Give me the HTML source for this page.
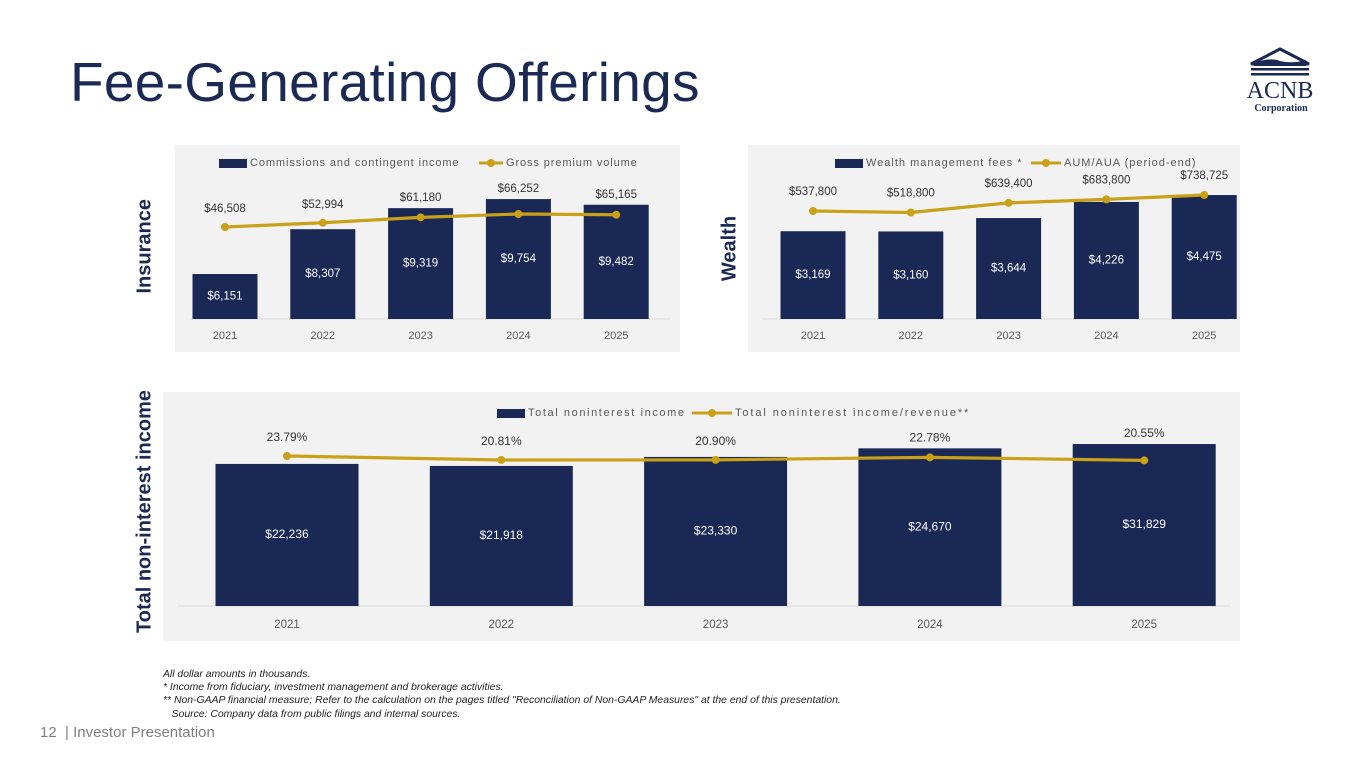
<!DOCTYPE html>
<html><head><meta charset="utf-8">
<style>
html,body{margin:0;padding:0;background:#fff;}
body{width:1365px;height:768px;position:relative;overflow:hidden;font-family:"Liberation Sans",sans-serif;}
.title{position:absolute;left:70px;top:50px;font-size:55px;color:#1b2a55;letter-spacing:0.3px;}
.side{position:absolute;font-weight:bold;color:#1b2a55;font-size:20px;transform:rotate(-90deg);transform-origin:center;white-space:nowrap;}
.notes{position:absolute;left:163px;top:668px;font-size:10.4px;font-style:italic;color:#222;line-height:13.2px;}
.footer{position:absolute;left:40px;top:724px;font-size:15px;color:#7f7f7f;}
svg{position:absolute;left:0;top:0;}
</style></head>
<body>
<div class="title">Fee-Generating Offerings</div>
<svg width="1365" height="768" id="chart">
  <g>
    <path d="M1251 64 L1280 49 L1309 64 Z" fill="none" stroke="#1b2a55" stroke-width="3"/>
    <path d="M1254 63 Q1270 57 1280 61 Q1292 64 1306 60 L1306 66 L1254 66 Z" fill="#1b2a55"/>
    <rect x="1251" y="68" width="58" height="2.5" fill="#1b2a55"/>
    <rect x="1251" y="73" width="58" height="2.5" fill="#1b2a55"/>
    <text x="1280" y="98" text-anchor="middle" font-family="Liberation Serif,serif" font-size="24" fill="#1b2a55">ACNB</text>
    <text x="1281" y="111" text-anchor="middle" font-family="Liberation Serif,serif" font-size="10" font-weight="bold" fill="#1b2a55">Corporation</text>
  </g>
</svg>
<div class="side" style="left:100px;top:237px;width:90px;text-align:center;">Insurance</div>
<div class="side" style="left:690px;top:237px;width:80px;text-align:center;">Wealth</div>
<div class="side" style="left:15px;top:500px;width:260px;text-align:center;">Total non-interest income</div>
<div class="notes">
All dollar amounts in thousands.<br>
* Income from fiduciary, investment management and brokerage activities.<br>
** Non-GAAP financial measure; Refer to the calculation on the pages titled "Reconciliation of Non-GAAP Measures" at the end of this presentation.<br>
&nbsp;&nbsp;&nbsp;Source: Company data from public filings and internal sources.
</div>
<div class="footer">12 &nbsp;| Investor Presentation</div>
<script>
const years = ["2021","2022","2023","2024","2025"];
const insBarValues = [6151, 8307, 9319, 9754, 9482];
const insBarLabels = ["$6,151","$8,307","$9,319","$9,754","$9,482"];
const insLineValues = [46508, 52994, 61180, 66252, 65165];
const insLineLabels = ["$46,508","$52,994","$61,180","$66,252","$65,165"];
const wlBarValues = [3169, 3160, 3644, 4226, 4475];
const wlBarLabels = ["$3,169","$3,160","$3,644","$4,226","$4,475"];
const wlLineValues = [537800, 518800, 639400, 683800, 738725];
const wlLineLabels = ["$537,800","$518,800","$639,400","$683,800","$738,725"];
const totValues = [22236, 21918, 23330, 24670, 25350];
const totLabels = ["$22,236","$21,918","$23,330","$24,670","$31,829"];
const pctValues = [23.79, 20.81, 20.90, 22.78, 20.55];
const pctLabels = ["23.79%","20.81%","20.90%","22.78%","20.55%"];

const NS = "http://www.w3.org/2000/svg";
const svg = document.getElementById('chart');
const NAVY = "#1a2856", GOLD = "#c9a118";
function mk(tag, attrs, parent){
  const e = document.createElementNS(NS, tag);
  for (const k in attrs) e.setAttribute(k, attrs[k]);
  (parent||svg).appendChild(e);
  return e;
}
function txt(parent, x, y, s, size, fill, anchor, ls){
  const t = mk('text', {x:x, y:y, 'font-size':size, fill:fill, 'text-anchor':anchor||'middle', 'dominant-baseline':'middle', 'font-family':'Liberation Sans, sans-serif'}, parent);
  if (ls) t.setAttribute('letter-spacing', ls);
  t.textContent = s;
  return t;
}
function chart(cfg){
  const g = mk('g', {});
  
  
  const bg = mk('rect', {x:cfg.px, y:cfg.py, width:cfg.pw, height:cfg.ph, fill:'#f2f2f2'}, g);
  
  
  const xPos = i => cfg.x0 + i*cfg.step;
  const barH = v => cfg.barScale*(v - cfg.barMin);
  const lineY = v => cfg.lineB - cfg.lineScale*(v - cfg.lineMin);
  const ax = mk('line', {x1:cfg.px+15, x2:cfg.px+cfg.pw-10, y1:cfg.base, y2:cfg.base, stroke:'#d9d9d9', 'stroke-width':1}, g);
  
  
  cfg.cats.forEach((c, i) => {
    const h = barH(cfg.bars[i]);
    const b = mk('rect', {x:xPos(i)-cfg.bw/2, y:cfg.base-h, width:cfg.bw, height:h, fill:NAVY}, g);
    
    
    const bl = txt(g, xPos(i), cfg.base - h/2, cfg.barLabels[i], cfg.fs, '#fff');
    
    
    const xl = txt(g, xPos(i), cfg.yearY, c, cfg.fs-0.5, '#595959');
    
    
  });
  const pts = cfg.line.map((v, i) => xPos(i) + ',' + lineY(v)).join(' ');
  const pl = mk('polyline', {points:pts, fill:'none', stroke:GOLD, 'stroke-width':3.2}, g);
  
  
  cfg.line.forEach((v, i) => {
    const c = mk('circle', {cx:xPos(i), cy:lineY(v), r:4, fill:GOLD}, g);
    
    
    const top = Math.min(lineY(v), cfg.base - barH(cfg.bars[i]));
    const ly = Math.min(lineY(v) - cfg.lineLabOff, top - 10);
    const l = txt(g, xPos(i), ly, cfg.lineLabels[i], cfg.fs, '#333');
    
    
  });
  const L = cfg.legend;
  const lr = mk('rect', {x:L.x, y:L.y-4, width:L.rw, height:9, fill:NAVY}, g);
  
  
  const lt1 = txt(g, L.x+L.rw+3, L.y, L.t1, 11, '#595959', 'start', L.ls);
  
  
  const ll = mk('line', {x1:L.lx, x2:L.lx+L.lw, y1:L.y, y2:L.y, stroke:GOLD, 'stroke-width':3}, g);
  
  
  const lc = mk('circle', {cx:L.lx+L.lw/2, cy:L.y, r:4, fill:GOLD}, g);
  
  
  const lt2 = txt(g, L.lx+L.lw+3, L.y, L.t2, 11, '#595959', 'start', L.ls2 || L.ls);
  
  
}
chart({name:'insurance-chart', px:175, py:145, pw:505, ph:207, x0:225, step:97.8, bw:65, base:319, yearY:336, fs:11.5,
  cats:years, bars:insBarValues, barLabels:insBarLabels, barMin:3989, barScale:0.0208,
  line:insLineValues, lineLabels:insLineLabels, lineMin:0, lineB:257.6, lineScale:0.000658, lineLabOff:18,
  legend:{x:219, y:163, rw:28, t1:'Commissions and contingent income', lx:479, lw:24, t2:'Gross premium volume', ls:'0.9'}});
chart({name:'wealth-chart', px:748, py:145, pw:492, ph:207, x0:813, step:97.8, bw:65, base:319, yearY:336, fs:11.5,
  cats:years, bars:wlBarValues, barLabels:wlBarLabels, barMin:0, barScale:0.0277,
  line:wlLineValues, lineLabels:wlLineLabels, lineMin:0, lineB:253.8, lineScale:0.0000796, lineLabOff:19,
  legend:{x:835, y:163, rw:28, t1:'Wealth management fees *', lx:1031, lw:30, t2:'AUM/AUA (period-end)', ls:'1'}});
chart({name:'total-noninterest-chart', px:163, py:392, pw:1077, ph:249, x0:287, step:214.3, bw:143, base:606, yearY:625, fs:12,
  cats:years, bars:totValues, barLabels:totLabels, barMin:0, barScale:0.00639,
  line:pctValues, lineLabels:pctLabels, lineMin:0, lineB:456+23.79*1.34, lineScale:1.34, lineLabOff:18,
  legend:{x:497, y:413, rw:28, t1:'Total noninterest income', lx:692, lw:40, t2:'Total noninterest income/revenue**', ls:'1.6', ls2:'1.9'}});
</script>
</body></html>
